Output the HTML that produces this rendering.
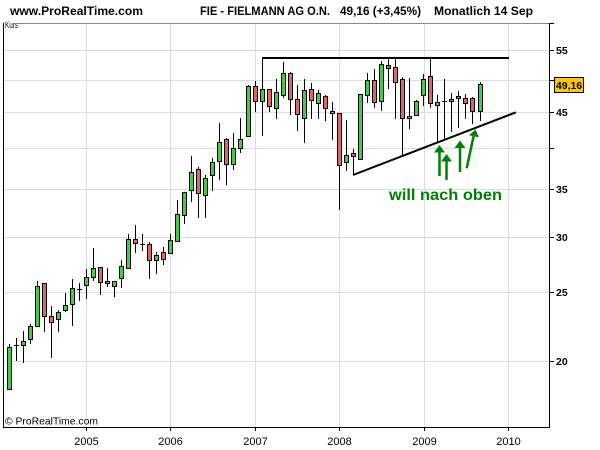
<!DOCTYPE html>
<html><head><meta charset="utf-8"><style>
html,body{margin:0;padding:0;background:#fff;}
svg{display:block;}
</style></head><body>
<svg width="600" height="450" viewBox="0 0 600 450" xmlns="http://www.w3.org/2000/svg" shape-rendering="crispEdges">
<rect x="0" y="0" width="600" height="450" fill="#fff"/>
<!-- header -->
<g font-family="Liberation Sans, Arial, sans-serif" font-weight="bold" font-size="12" fill="#000">
<text x="10" y="15" textLength="133" lengthAdjust="spacingAndGlyphs">www.ProRealTime.com</text>
<text x="200" y="15" textLength="130" lengthAdjust="spacingAndGlyphs">FIE - FIELMANN AG O.N.</text>
<text x="340" y="15" textLength="81" lengthAdjust="spacingAndGlyphs">49,16 (+3,45%)</text>
<text x="434" y="15" textLength="99" lengthAdjust="spacingAndGlyphs">Monatlich  14 Sep</text>
</g>
<!-- gridlines -->
<g stroke="#dcdcdc" stroke-width="1">
<path d="M3 50.5H549M3 80.5H549M3 112.5H549M3 148.5H549M3 189.5H549M3 237.5H549M3 292.5H549M3 361.5H549"/>
<path d="M86.5 24V427M170.5 24V427M255.5 24V427M339.5 24V427M424.5 24V427M508.5 24V427"/>
</g>
<!-- frame -->
<path d="M3 23.5H549" stroke="#888" stroke-width="1"/>
<path d="M3.5 23V428M3 427.5H550M549.5 23V428" stroke="#000" stroke-width="1"/>
<rect x="4" y="20" width="14" height="9" fill="#fff"/>
<text x="5" y="28" font-family="Liberation Sans, Arial, sans-serif" font-size="9" textLength="13" lengthAdjust="spacingAndGlyphs" fill="#000">Kurs</text>
<!-- axis ticks -->
<path d="M549 23.5H554M549 50.5H554M549 80.5H554M549 112.5H554M549 148.5H554M549 189.5H554M549 237.5H554M549 292.5H554M549 361.5H554" stroke="#000"/>
<path d="M86.5 428V431M170.5 428V431M255.5 428V431M339.5 428V431M424.5 428V431M508.5 428V431" stroke="#000"/>
<!-- right labels -->
<g font-family="Liberation Sans, Arial, sans-serif" font-weight="bold" font-size="10.5" fill="#000">
<text x="556" y="54">55</text>
<text x="556" y="116">45</text>
<text x="556" y="193">35</text>
<text x="556" y="241">30</text>
<text x="556" y="296">25</text>
<text x="556" y="365">20</text>
</g>
<rect x="554.5" y="77.5" width="29" height="15" fill="#ffc800" stroke="#000"/>
<text x="569" y="89" text-anchor="middle" font-family="Liberation Sans, Arial, sans-serif" font-weight="bold" font-size="10.5" fill="#000">49,16</text>
<!-- year labels -->
<g font-family="Liberation Sans, Arial, sans-serif" font-size="11" fill="#000" text-anchor="middle">
<text x="86.5" y="445">2005</text>
<text x="170.5" y="445">2006</text>
<text x="255.5" y="445">2007</text>
<text x="339.5" y="445">2008</text>
<text x="424.5" y="445">2009</text>
<text x="508.5" y="445">2010</text>
</g>
<text x="5" y="424.5" font-family="Liberation Sans, Arial, sans-serif" font-size="10" textLength="93" lengthAdjust="spacingAndGlyphs" fill="#000">© ProRealTime.com</text>
<!-- wicks -->
<path stroke="#000" stroke-width="1" fill="none" d="M9.5 344V390M16.5 338V361M23.5 331V363M30.5 324V344M37.5 281V327M44.5 283V332M51.5 306V358M58.5 310V332M65.5 293V312M72.5 279V326M79.5 283V301M86.5 269V299M93.5 248V281M100.5 267V295M107.5 268V287M114.5 281V297M121.5 260V288M128.5 234V269M135.5 225V253M142.5 234V251M149.5 242V279M156.5 252V274M163.5 247V265M170.5 234V254M177.5 200V242M184.5 192V224M191.5 156V202M198.5 167V218M205.5 175V218M212.5 158V191M219.5 123V180M226.5 138V185M233.5 133V170M240.5 118V153M248.5 85V137M255.5 81V112M262.5 58V136M269.5 89V112M276.5 79V119M283.5 62V98M290.5 72V115M297.5 85V131M304.5 79V143M311.5 83V119M318.5 90V119M325.5 95V121M332.5 102V140M339.5 113V210M346.5 120V171M353.5 149V175M360.5 94V160M367.5 73V103M374.5 69V108M381.5 61V111M388.5 59V89M395.5 59V119M402.5 77V156M409.5 78V129M416.5 100V116M423.5 74V106M430.5 58V108M437.5 95V143M444.5 79V140M451.5 93V132M458.5 91V128M465.5 94V119M472.5 97V124M480.5 82V121"/>
<!-- dojis -->
<path stroke="#000" stroke-width="1" d="M14 345.5H19M77 289.5H82M140 244.5H145M442 101.5H447"/>
<!-- green bodies -->
<g fill="#44cc44" stroke="#000" stroke-width="1">
<rect x="7.5" y="347.5" width="4" height="42"/>
<rect x="21.5" y="341.5" width="4" height="4"/>
<rect x="28.5" y="326.5" width="4" height="13"/>
<rect x="35.5" y="286.5" width="4" height="40"/>
<rect x="56.5" y="312.5" width="4" height="7"/>
<rect x="63.5" y="305.5" width="4" height="5"/>
<rect x="70.5" y="288.5" width="4" height="16"/>
<rect x="84.5" y="277.5" width="4" height="8"/>
<rect x="91.5" y="268.5" width="4" height="9"/>
<rect x="112.5" y="281.5" width="4" height="5"/>
<rect x="119.5" y="266.5" width="4" height="12"/>
<rect x="126.5" y="239.5" width="4" height="29"/>
<rect x="154.5" y="255.5" width="4" height="5"/>
<rect x="168.5" y="240.5" width="4" height="13"/>
<rect x="175.5" y="214.5" width="4" height="27"/>
<rect x="182.5" y="192.5" width="4" height="23"/>
<rect x="189.5" y="172.5" width="4" height="18"/>
<rect x="203.5" y="178.5" width="4" height="17"/>
<rect x="210.5" y="162.5" width="4" height="13"/>
<rect x="217.5" y="142.5" width="4" height="19"/>
<rect x="231.5" y="148.5" width="4" height="16"/>
<rect x="238.5" y="139.5" width="4" height="9"/>
<rect x="246.5" y="86.5" width="4" height="50"/>
<rect x="260.5" y="89.5" width="4" height="12"/>
<rect x="274.5" y="92.5" width="4" height="16"/>
<rect x="281.5" y="73.5" width="4" height="22"/>
<rect x="302.5" y="90.5" width="4" height="28"/>
<rect x="316.5" y="93.5" width="4" height="10"/>
<rect x="330.5" y="111.5" width="4" height="2"/>
<rect x="344.5" y="155.5" width="4" height="7"/>
<rect x="358.5" y="94.5" width="4" height="65"/>
<rect x="365.5" y="80.5" width="4" height="15"/>
<rect x="379.5" y="64.5" width="4" height="37"/>
<rect x="407.5" y="116.5" width="4" height="2"/>
<rect x="414.5" y="101.5" width="4" height="14"/>
<rect x="421.5" y="79.5" width="4" height="16"/>
<rect x="435.5" y="102.5" width="4" height="3"/>
<rect x="478.5" y="84.5" width="4" height="27"/>
</g>
<!-- red bodies -->
<g fill="#e06666" stroke="#000" stroke-width="1">
<rect x="42.5" y="283.5" width="4" height="33"/>
<rect x="49.5" y="316.5" width="4" height="6"/>
<rect x="98.5" y="267.5" width="4" height="15"/>
<rect x="105.5" y="281.5" width="4" height="2"/>
<rect x="133.5" y="239.5" width="4" height="4"/>
<rect x="147.5" y="244.5" width="4" height="16"/>
<rect x="161.5" y="252.5" width="4" height="7"/>
<rect x="196.5" y="169.5" width="4" height="24"/>
<rect x="224.5" y="139.5" width="4" height="25"/>
<rect x="253.5" y="86.5" width="4" height="15"/>
<rect x="267.5" y="89.5" width="4" height="17"/>
<rect x="288.5" y="73.5" width="4" height="26"/>
<rect x="295.5" y="99.5" width="4" height="15"/>
<rect x="309.5" y="89.5" width="4" height="11"/>
<rect x="323.5" y="96.5" width="4" height="12"/>
<rect x="337.5" y="113.5" width="4" height="52"/>
<rect x="351.5" y="153.5" width="4" height="3"/>
<rect x="372.5" y="80.5" width="4" height="22"/>
<rect x="386.5" y="65.5" width="4" height="3"/>
<rect x="393.5" y="67.5" width="4" height="15"/>
<rect x="400.5" y="79.5" width="4" height="39"/>
<rect x="428.5" y="76.5" width="4" height="27"/>
<rect x="449.5" y="99.5" width="4" height="2"/>
<rect x="456.5" y="96.5" width="4" height="2"/>
<rect x="463.5" y="98.5" width="4" height="5"/>
<rect x="470.5" y="98.5" width="4" height="13"/>
</g>
<!-- trend lines -->
<path d="M262 58H509" stroke="#000" stroke-width="2"/>
<g shape-rendering="auto">
<path d="M353 175L516 112.3" stroke="#000" stroke-width="2" fill="none"/>
<!-- arrows -->
<g stroke="#008000" stroke-width="2.5" fill="none">
<path d="M439.5 151V176"/>
<path d="M446.5 160V180"/>
<path d="M460 147V172"/>
<path d="M466.7 168.3L473.6 136"/>
</g>
<g fill="#008000">
<polygon points="434,152.5 445,152.5 439.5,145"/>
<polygon points="441,161.5 452,161.5 446.5,154"/>
<polygon points="454.5,148 465.5,148 460,140.5"/>
<polygon points="469,135.2 478.9,137.4 475.5,129.5"/>
</g>
<text x="389" y="200" font-family="Liberation Sans, Arial, sans-serif" font-weight="bold" font-size="16" fill="#008000" textLength="113" lengthAdjust="spacingAndGlyphs">will nach oben</text>
</g>
</svg>
</body></html>
